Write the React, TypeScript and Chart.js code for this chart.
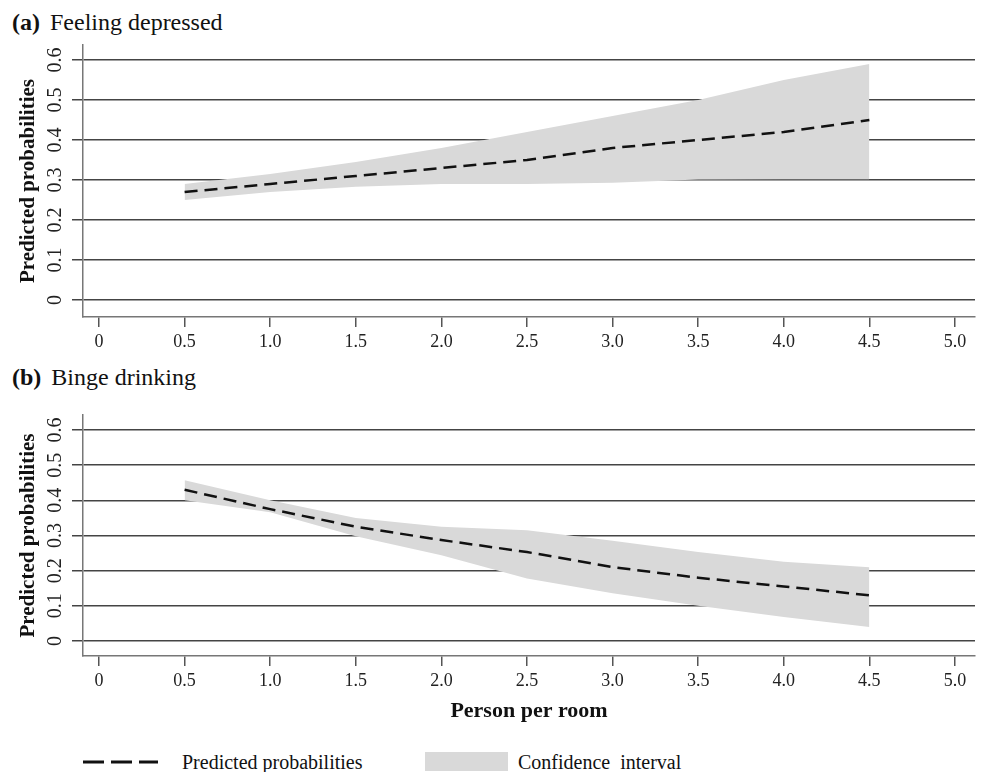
import React, { useEffect, useRef } from 'react';
import { Chart, registerables } from 'chart.js';

Chart.register(...registerables);

// ---- Data ----
const xValues = [0.5, 1.0, 1.5, 2.0, 2.5, 3.0, 3.5, 4.0, 4.5];

const depressedPredicted = [0.27, 0.29, 0.31, 0.33, 0.35, 0.38, 0.4, 0.42, 0.45];
const depressedUpper = [0.29, 0.315, 0.345, 0.38, 0.42, 0.46, 0.5, 0.55, 0.59];
const depressedLower = [0.25, 0.27, 0.283, 0.29, 0.29, 0.293, 0.301, 0.302, 0.302];

const bingePredicted = [0.43, 0.375, 0.325, 0.287, 0.253, 0.21, 0.18, 0.155, 0.13];
const bingeUpper = [0.457, 0.4, 0.35, 0.325, 0.315, 0.285, 0.253, 0.225, 0.21];
const bingeLower = [0.4, 0.366, 0.298, 0.244, 0.178, 0.136, 0.1, 0.068, 0.04];

const xTickValues = [0, 0.5, 1.0, 1.5, 2.0, 2.5, 3.0, 3.5, 4.0, 4.5, 5.0];
const xTickLabels = ['0', '0.5', '1.0', '1.5', '2.0', '2.5', '3.0', '3.5', '4.0', '4.5', '5.0'];
const yTickValues = [0, 0.1, 0.2, 0.3, 0.4, 0.5, 0.6];
const yTickLabels = ['0', '0.1', '0.2', '0.3', '0.4', '0.5', '0.6'];

const X_MIN = -0.0935;
const X_MAX = 5.117;

const SERIF = '"Liberation Serif", "Times New Roman", serif';

Chart.defaults.font.family = SERIF;

const rotatedYTicks = {
  id: 'rotatedYTicks',
  afterDraw(chart: any) {
    const y = chart.scales.y;
    const ctx = chart.ctx;
    ctx.save();
    ctx.font = `20px ${SERIF}`;
    ctx.fillStyle = '#222';
    ctx.textAlign = 'center';
    ctx.textBaseline = 'middle';
    y.ticks.forEach((t: any, i: number) => {
      const py = y.getPixelForValue(t.value);
      ctx.save();
      ctx.translate(56, py);
      ctx.rotate(-Math.PI / 2);
      ctx.fillText(yTickLabels[i] ?? '', 0, 0);
      ctx.restore();
    });
    ctx.restore();
  },
};

type PanelCfg = {
  pred: number[];
  upper: number[];
  lower: number[];
  yMin: number;
  yMax: number;
  axisHeight: number;
  showXTitle: boolean;
};

const pts = (arr: number[]) => arr.map((v, i) => ({ x: xValues[i], y: v }));

function makeChart(canvas: HTMLCanvasElement, cfg: PanelCfg) {
  return new Chart(canvas, {
    type: 'line',
    data: {
      datasets: [
        {
          label: 'Predicted probabilities',
          data: pts(cfg.pred),
          borderColor: '#111',
          borderWidth: 2.5,
          borderDash: [13, 7],
          pointRadius: 0,
          fill: false,
          tension: 0,
        },
        {
          label: 'Confidence interval (upper)',
          data: pts(cfg.upper),
          borderColor: 'rgba(0,0,0,0)',
          borderWidth: 0,
          backgroundColor: '#d9d9d9',
          pointRadius: 0,
          fill: '+1',
          tension: 0,
        },
        {
          label: 'Confidence interval (lower)',
          data: pts(cfg.lower),
          borderColor: 'rgba(0,0,0,0)',
          borderWidth: 0,
          pointRadius: 0,
          fill: false,
          tension: 0,
        },
      ],
    },
    options: {
      animation: false,
      responsive: false,
      devicePixelRatio: 1,
      layout: { padding: { top: 45, right: 6, left: 0, bottom: 0 } },
      plugins: { legend: { display: false }, tooltip: { enabled: false } },
      scales: {
        x: {
          type: 'linear',
          min: X_MIN,
          max: X_MAX,
          afterBuildTicks: (s: any) => {
            s.ticks = xTickValues.map((v) => ({ value: v }));
          },
          afterFit: (s: any) => {
            s.height = cfg.axisHeight;
          },
          grid: { drawOnChartArea: false, drawTicks: true, tickLength: 10, color: '#555', lineWidth: 1.5 },
          border: { display: true, color: '#777', width: 1.5 },
          ticks: {
            font: { size: 18, family: SERIF },
            color: '#222',
            padding: 4,
            maxRotation: 0,
            minRotation: 0,
            autoSkip: false,
            callback: (_v: any, i: number) => xTickLabels[i] ?? '',
          },
          title: {
            display: cfg.showXTitle,
            text: 'Person per room',
            font: { size: 22, weight: 'bold', family: SERIF },
            color: '#111',
            padding: { top: 0, bottom: 15 },
          },
        },
        y: {
          type: 'linear',
          min: cfg.yMin,
          max: cfg.yMax,
          afterBuildTicks: (s: any) => {
            s.ticks = yTickValues.map((v) => ({ value: v }));
          },
          afterFit: (s: any) => {
            s.width = 83;
          },
          grid: { color: '#444', lineWidth: 1.5, tickLength: 11, drawTicks: true },
          border: { display: true, color: '#777', width: 1.5 },
          ticks: { display: false },
          title: {
            display: true,
            text: 'Predicted probabilities',
            font: { size: 21, weight: 'bold', family: SERIF },
            color: '#111',
            padding: { top: 16, bottom: 0 },
          },
        },
      },
    } as any,
    plugins: [rotatedYTicks],
  });
}

export default function App() {
  const topRef = useRef<HTMLCanvasElement | null>(null);
  const botRef = useRef<HTMLCanvasElement | null>(null);

  useEffect(() => {
    const c1 = makeChart(topRef.current!, {
      pred: depressedPredicted,
      upper: depressedUpper,
      lower: depressedLower,
      yMin: -0.0425,
      yMax: 0.6375,
      axisHeight: 38,
      showXTitle: false,
    });
    const c2 = makeChart(botRef.current!, {
      pred: bingePredicted,
      upper: bingeUpper,
      lower: bingeLower,
      yMin: -0.0427,
      yMax: 0.6427,
      axisHeight: 84,
      showXTitle: true,
    });
    return () => {
      c1.destroy();
      c2.destroy();
    };
  }, []);

  const titleStyle: React.CSSProperties = {
    position: 'absolute',
    left: 12,
    fontSize: 24,
    lineHeight: '24px',
    whiteSpace: 'nowrap',
    color: '#111',
    fontFamily: SERIF,
  };
  const legendText: React.CSSProperties = {
    position: 'absolute',
    fontSize: 20,
    lineHeight: '20px',
    whiteSpace: 'pre',
    color: '#111',
    fontFamily: SERIF,
  };

  return (
    <div
      style={{
        position: 'absolute',
        left: 0,
        top: 0,
        width: 981,
        height: 772,
        background: '#fff',
        overflow: 'hidden',
        fontFamily: SERIF,
      }}
    >
      <div style={{ ...titleStyle, top: 10 }}>
        <b>(a)</b>
        <span style={{ marginLeft: 4 }}> Feeling depressed</span>
      </div>
      <canvas ref={topRef} width={981} height={355} style={{ position: 'absolute', left: 0, top: 0 }} />
      <div style={{ ...titleStyle, top: 365 }}>
        <b>(b)</b>
        <span style={{ marginLeft: 4 }}> Binge drinking</span>
      </div>
      <canvas ref={botRef} width={981} height={370} style={{ position: 'absolute', left: 0, top: 370 }} />

      <svg width={80} height={10} style={{ position: 'absolute', left: 82, top: 757 }}>
        <line x1={1} y1={5} x2={76} y2={5} stroke="#111" strokeWidth={3} strokeDasharray="21 7" />
      </svg>
      <div style={{ ...legendText, left: 182, top: 752 }}>Predicted probabilities</div>
      <div style={{ position: 'absolute', left: 425, top: 752, width: 83, height: 19, background: '#d9d9d9' }} />
      <div style={{ ...legendText, left: 518, top: 752 }}>{'Confidence  interval'}</div>
    </div>
  );
}
